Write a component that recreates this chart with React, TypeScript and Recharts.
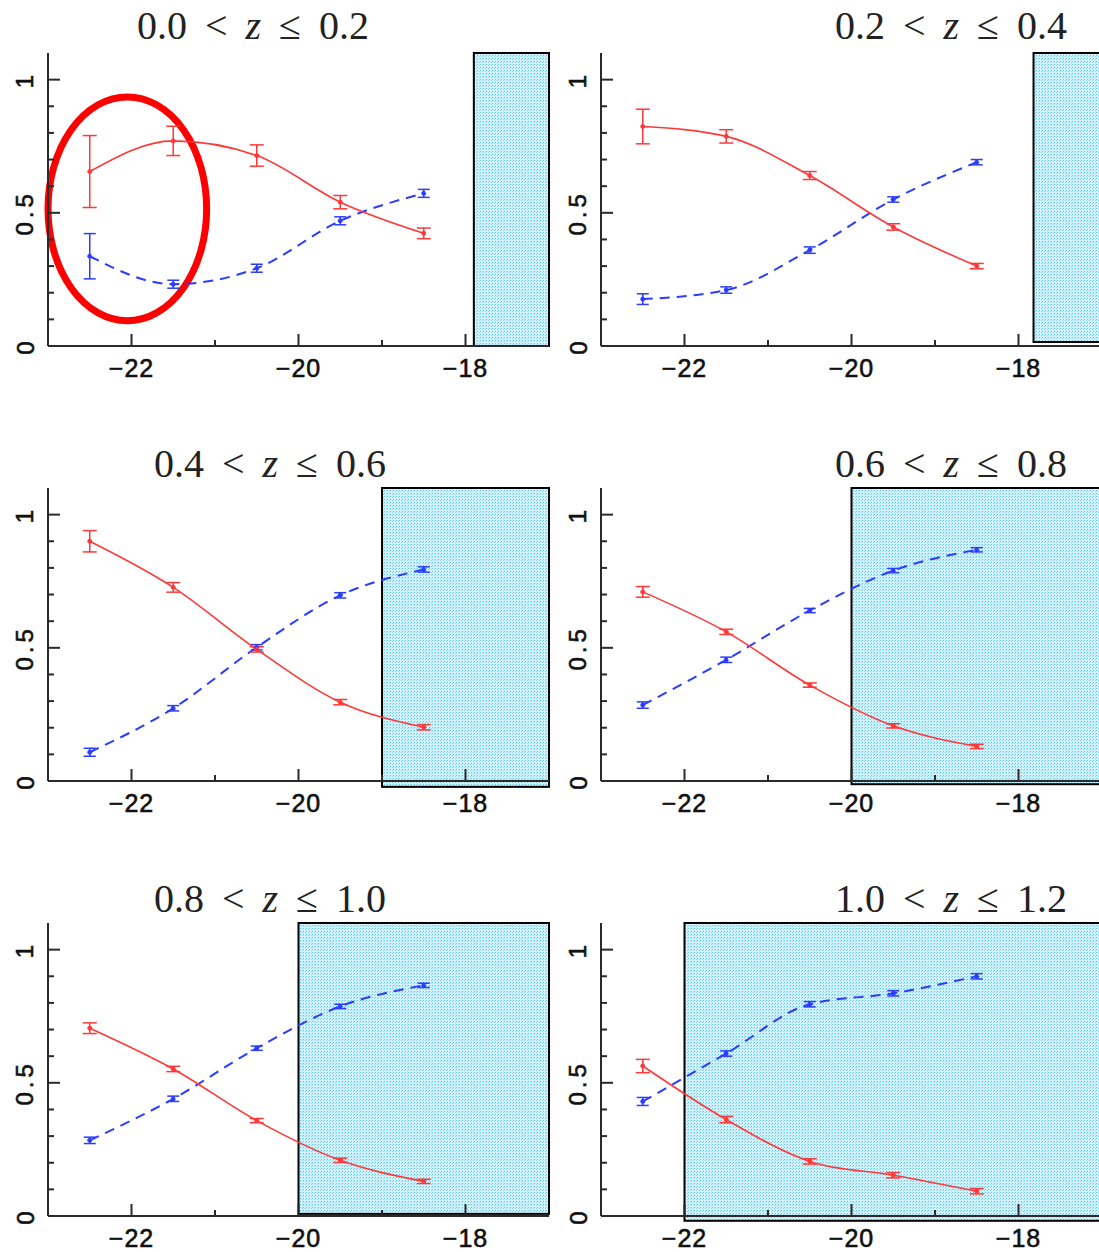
import React from 'react';
import {
  LineChart,
  Line,
  XAxis,
  YAxis,
  ErrorBar,
  ReferenceArea
} from 'recharts';

// absolute magnitude bins (x positions of the points)
const MAGS = [-22.5, -21.5, -20.5, -19.5, -18.5];
const X_TICKS = [-22, -21, -20, -19, -18];
const Y_TICKS = [0, 0.1, 0.2, 0.3, 0.4, 0.5, 0.6, 0.7, 0.8, 0.9, 1];

// redshift bins, one per panel
const Z_LOW = ['0.0', '0.2', '0.4', '0.6', '0.8', '1.0'];
const Z_HIGH = ['0.2', '0.4', '0.6', '0.8', '1.0', '1.2'];

// start of the shaded (incomplete) magnitude range in each panel
const CUTOFF = [-17.9, -17.82, -19, -20, -20, -22];

// red (solid) fractions and errors
const RED = [
  [0.655, 0.77, 0.715, 0.54, 0.423],
  [0.824, 0.787, 0.64, 0.447, 0.3],
  [0.9, 0.727, 0.494, 0.296, 0.202],
  [0.71, 0.56, 0.36, 0.207, 0.13],
  [0.705, 0.552, 0.358, 0.209, 0.13],
  [0.563, 0.362, 0.205, 0.153, 0.093]
];
const RED_ERR = [
  [0.135, 0.055, 0.04, 0.025, 0.02],
  [0.065, 0.025, 0.015, 0.012, 0.01],
  [0.04, 0.018, 0.01, 0.01, 0.01],
  [0.02, 0.01, 0.008, 0.008, 0.008],
  [0.02, 0.01, 0.008, 0.008, 0.008],
  [0.025, 0.012, 0.01, 0.01, 0.01]
];

// blue (dashed) fractions and errors
const BLUE = [
  [0.337, 0.232, 0.292, 0.47, 0.573],
  [0.176, 0.21, 0.36, 0.55, 0.69],
  [0.108, 0.273, 0.502, 0.697, 0.794],
  [0.285, 0.455, 0.64, 0.79, 0.868],
  [0.284, 0.44, 0.63, 0.787, 0.866],
  [0.43, 0.61, 0.795, 0.836, 0.9]
];
const BLUE_ERR = [
  [0.085, 0.015, 0.015, 0.015, 0.015],
  [0.02, 0.012, 0.012, 0.01, 0.01],
  [0.015, 0.01, 0.01, 0.01, 0.01],
  [0.012, 0.01, 0.008, 0.008, 0.008],
  [0.012, 0.01, 0.008, 0.008, 0.008],
  [0.015, 0.01, 0.01, 0.01, 0.01]
];

// red ellipse highlighting the bright end of the first panel (data units)
const HIGHLIGHT = { x1: -23.0, x2: -21.1, y1: 0.095, y2: 0.935 };

// lower edge of the shaded box (the boxes are not quite aligned with the frame)
const SHADE_Y1 = [0, 0.015, -0.022, -0.012, 0.008, -0.018];

const RED_COLOR = '#ff3838';
const BLUE_COLOR = '#2a3cff';
const AXIS_COLOR = '#2a2a2a';

const PLOT_LEFT = [48, 601];
const PLOT_TOP = [53, 488, 923];
const PLOT_W = 501;
const PLOT_H = 293;
const Y_AXIS_W = 48;
const X_AXIS_H = 40;
const M_TOP = 4;
const M_RIGHT = 4;

// axis positions inside each chart svg
const AX_BOTTOM = M_TOP + PLOT_H;
const AX_TOP = M_TOP;
const AX_LEFT = Y_AXIS_W;
const AX_RIGHT = Y_AXIS_W + PLOT_W;

const TITLE_CENTER = [253, 951, 270, 951, 270, 951];
const TITLE_TOP = [6, 444, 879];

const isMajorY = (v: number) => Math.abs(v * 2 - Math.round(v * 2)) < 1e-6;

const labelFont = {
  fontFamily: "'Liberation Sans', Arial, sans-serif",
  fill: '#111',
  stroke: '#111',
  strokeWidth: 0.6
};

const BottomTick = ({ x, payload }: any) => {
  const major = payload.value % 2 === 0;
  return (
    <g>
      <line x1={x} y1={AX_BOTTOM} x2={x} y2={AX_BOTTOM - (major ? 12 : 6)} stroke={AXIS_COLOR} strokeWidth={2} />
      {major && (
        <text
          x={x}
          y={AX_BOTTOM + 22}
          textAnchor="middle"
          dominantBaseline="central"
          fontSize={25}
          letterSpacing={1}
          {...labelFont}
        >
          {`\u2212${Math.abs(payload.value)}`}
        </text>
      )}
    </g>
  );
};

const TopTick = ({ x, payload }: any) => {
  const major = payload.value % 2 === 0;
  return <line x1={x} y1={AX_TOP} x2={x} y2={AX_TOP + (major ? 12 : 6)} stroke={AXIS_COLOR} strokeWidth={2} />;
};

const LeftTick = ({ y, payload }: any) => {
  const v = payload.value;
  const major = isMajorY(v);
  const lx = AX_LEFT - 23;
  return (
    <g>
      <line x1={AX_LEFT} y1={y} x2={AX_LEFT + (major ? 12 : 6)} y2={y} stroke={AXIS_COLOR} strokeWidth={2} />
      {major && (
        <text
          x={lx}
          y={y}
          transform={`rotate(-90, ${lx}, ${y})`}
          textAnchor="middle"
          dominantBaseline="central"
          fontSize={24}
          letterSpacing={4}
          {...labelFont}
        >
          {String(v)}
        </text>
      )}
    </g>
  );
};

const RightTick = ({ y, payload }: any) => {
  const major = isMajorY(payload.value);
  return <line x1={AX_RIGHT} y1={y} x2={AX_RIGHT - (major ? 12 : 6)} y2={y} stroke={AXIS_COLOR} strokeWidth={2} />;
};

const Panel = ({ idx }: { idx: number }) => {
  const col = idx % 2;
  const row = Math.floor(idx / 2);
  const width = Y_AXIS_W + PLOT_W + M_RIGHT;
  const height = M_TOP + PLOT_H + X_AXIS_H;
  const left = PLOT_LEFT[col] - Y_AXIS_W;
  const top = PLOT_TOP[row] - M_TOP;
  const patternId = `dots-${idx}`;

  const data = MAGS.map((mag, i) => ({
    mag,
    red: RED[idx][i],
    redErr: RED_ERR[idx][i],
    blue: BLUE[idx][i],
    blueErr: BLUE_ERR[idx][i]
  }));

  const shaded = (p: any) => (
    <g>
      <defs>
        <pattern id={patternId} width={3} height={3} patternUnits="userSpaceOnUse">
          <rect width={3} height={3} fill="#d3f2fc" />
          <rect width={1} height={1} fill="#52c2ee" />
          <rect x={2} y={1} width={1} height={1} fill="#86d6f3" />
        </pattern>
      </defs>
      <rect x={p.x} y={p.y} width={p.width} height={p.height} fill={`url(#${patternId})`} stroke="#000" strokeWidth={2} />
    </g>
  );

  const ellipse = (p: any) => (
    <ellipse
      cx={p.x + p.width / 2}
      cy={p.y + p.height / 2}
      rx={p.width / 2}
      ry={p.height / 2}
      fill="none"
      stroke="#ff0000"
      strokeWidth={7}
    />
  );

  const axisLine = { stroke: AXIS_COLOR, strokeWidth: 2 };

  return (
    <>
      <div
        style={{
          position: 'absolute',
          left: TITLE_CENTER[idx] - 160,
          top: TITLE_TOP[row],
          width: 320,
          textAlign: 'center',
          fontFamily: "'Liberation Serif', serif",
          fontSize: 40,
          lineHeight: '40px',
          wordSpacing: 8,
          color: '#222',
          whiteSpace: 'nowrap'
        }}
      >
        {Z_LOW[idx]} &lt; <i>z</i> &le; {Z_HIGH[idx]}
      </div>
      <div style={{ position: 'absolute', left, top }}>
        <LineChart
          width={width}
          height={height}
          data={data}
          margin={{ top: M_TOP, right: M_RIGHT, bottom: 0, left: 0 }}
          style={{ overflow: 'visible' }}
        >
          <ReferenceArea
            x1={CUTOFF[idx]}
            x2={-17}
            y1={SHADE_Y1[idx]}
            y2={1.1}
            ifOverflow="visible"
            shape={shaded}
          />
          <XAxis
            dataKey="mag"
            type="number"
            domain={[-23, -17]}
            allowDataOverflow
            ticks={X_TICKS}
            interval={0}
            tickSize={0}
            tickMargin={0}
            tickLine={false}
            height={X_AXIS_H}
            axisLine={axisLine}
            tick={<BottomTick />}
          />
          <XAxis
            xAxisId="top"
            orientation="top"
            type="number"
            domain={[-23, -17]}
            allowDataOverflow
            ticks={X_TICKS}
            interval={0}
            tickSize={0}
            tickMargin={0}
            tickLine={false}
            height={0}
            axisLine={axisLine}
            tick={<TopTick />}
          />
          <YAxis
            type="number"
            domain={[0, 1.1]}
            allowDataOverflow
            ticks={Y_TICKS}
            interval={0}
            tickSize={0}
            tickMargin={0}
            tickLine={false}
            width={Y_AXIS_W}
            axisLine={axisLine}
            tick={<LeftTick />}
          />
          <YAxis
            yAxisId="right"
            orientation="right"
            type="number"
            domain={[0, 1.1]}
            allowDataOverflow
            ticks={Y_TICKS}
            interval={0}
            tickSize={0}
            tickMargin={0}
            tickLine={false}
            width={0}
            axisLine={axisLine}
            tick={<RightTick />}
          />
          <Line
            type="monotone"
            dataKey="blue"
            stroke={BLUE_COLOR}
            strokeWidth={2}
            strokeDasharray="10 7"
            dot={{ r: 2, fill: BLUE_COLOR, stroke: BLUE_COLOR, strokeWidth: 1 }}
            isAnimationActive={false}
          >
            <ErrorBar dataKey="blueErr" direction="y" width={6} stroke={BLUE_COLOR} strokeWidth={1.5} isAnimationActive={false} />
          </Line>
          <Line
            type="monotone"
            dataKey="red"
            stroke={RED_COLOR}
            strokeWidth={1.6}
            dot={{ r: 2, fill: RED_COLOR, stroke: RED_COLOR, strokeWidth: 1 }}
            isAnimationActive={false}
          >
            <ErrorBar dataKey="redErr" direction="y" width={7} stroke={RED_COLOR} strokeWidth={1.5} isAnimationActive={false} />
          </Line>
          {idx === 0 && (
            <ReferenceArea
              x1={HIGHLIGHT.x1}
              x2={HIGHLIGHT.x2}
              y1={HIGHLIGHT.y1}
              y2={HIGHLIGHT.y2}
              ifOverflow="visible"
              shape={ellipse}
            />
          )}
        </LineChart>
      </div>
    </>
  );
};

const App: React.FC = () => {
  return (
    <div
      style={{
        position: 'absolute',
        left: 0,
        top: 0,
        width: 1099,
        height: 1252,
        overflow: 'hidden',
        background: '#fff'
      }}
    >
      {[0, 1, 2, 3, 4, 5].map((i) => (
        <Panel key={i} idx={i} />
      ))}
    </div>
  );
};

export default App;
